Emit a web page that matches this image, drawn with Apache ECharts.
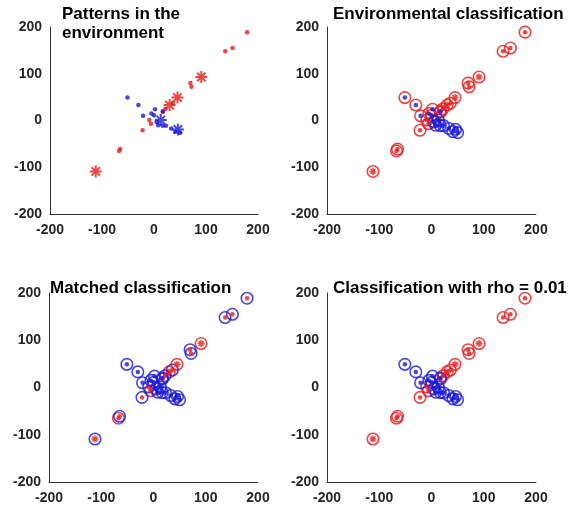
<!DOCTYPE html>
<html>
<head>
<meta charset="utf-8">
<script src="https://cdn.jsdelivr.net/npm/echarts@6/dist/echarts.min.js"></script>
<style>
  html, body { margin: 0; padding: 0; background: #fff; }
  #main { width: 571px; height: 509px; }
</style>
</head>
<body>
<div id="main"></div>
<script>
  // points (x, y), their true pattern colour and whether drawn as a star
  var ptX = [179, 151, 137, 91, 70, 72, 45, 30, 36, 22, 17, -9, -6, -22, -67, -65, -112,
             -51, -30, -21, 2, -5, 0, 17, 13, 8, 17, 23, 33, 46, 41, 50, 5];
  var ptY = [189, 155, 148, 93, 80, 72, 49, 33, 37, 25, 18, 1, -7, -21, -65, -61, -109,
             49, 33, 10, 24, 15, 11, 20, 1, -10, -11, -11, -17, -19, -24, -26, -3];
  var ptTrue = ['r','r','r','r','r','r','r','r','r','r','r','r','r','r','r','r','r',
                'b','b','b','b','b','b','b','b','b','b','b','b','b','b','b','b'];
  var ptStar = [0,0,0,1,0,0,1,1,0,0,0,0,0,0,0,0,1,
                0,0,0,0,0,0,0,1,0,0,0,0,1,0,0,0];

  // class assigned in each of the three classification panels
  var envLabel = ['r','r','r','r','r','r','r','r','r','r','r','r','r','r','r','r','r',
                  'r','r','r','r','r','r','r','b','b','b','b','b','b','b','b','b'];
  var matchedLabel = ['b','b','b','r','b','b','r','r','b','b','b','b','r','b','r','b','b',
                      'b','b','b','b','b','b','b','b','b','b','b','b','b','b','b','b'];
  var rhoLabel = ['r','r','r','r','r','r','r','r','r','r','r','r','r','r','r','r','r',
                  'b','b','b','b','b','b','b','b','b','b','b','b','b','b','b','b'];

  var titles = ['Patterns in the\nenvironment', 'Environmental classification',
                'Matched classification', 'Classification with rho = 0.01'];

  var RED = '#e81818';
  var BLUE = '#1818dc';
  var STAR = 'path://M0,5L10,5M5,0L5,10M1.5,1.5L8.5,8.5M8.5,1.5L1.5,8.5';

  var grids = [
    {left: 50, top: 27, width: 208, height: 187},
    {left: 327, top: 27, width: 209, height: 187},
    {left: 49, top: 293, width: 209, height: 189},
    {left: 327, top: 293, width: 209, height: 189}
  ];

  function pick(cls, star) {
    var out = [];
    for (var i = 0; i < ptX.length; i++) {
      if (ptTrue[i] === cls && ptStar[i] === star) out.push([ptX[i], ptY[i]]);
    }
    return out;
  }
  function pickLabel(labels, cls) {
    var out = [];
    for (var i = 0; i < ptX.length; i++) {
      if (labels[i] === cls) out.push([ptX[i], ptY[i]]);
    }
    return out;
  }

  var xAxes = [], yAxes = [], series = [];
  var axisStyle = {color: '#333', width: 1};
  var labelStyle = {color: '#262626', fontSize: 14, fontWeight: 'bold', fontFamily: 'Liberation Sans, Arial'};
  grids.forEach(function (g, k) {
    xAxes.push({
      gridIndex: k, type: 'value', min: -200, max: 200, interval: 100,
      axisLine: {onZero: false, lineStyle: axisStyle},
      axisTick: {show: false}, splitLine: {show: false},
      axisLabel: Object.assign({margin: 9}, labelStyle)
    });
    yAxes.push({
      gridIndex: k, type: 'value', min: -200, max: 200, interval: 100,
      axisLine: {show: true, onZero: false, lineStyle: axisStyle},
      axisTick: {show: false}, splitLine: {show: false},
      axisLabel: Object.assign({margin: 8}, labelStyle)
    });
  });

  var labelSets = [null, envLabel, matchedLabel, rhoLabel];
  grids.forEach(function (g, k) {
    var lab = labelSets[k];
    if (lab) {
      [['r', RED], ['b', BLUE]].forEach(function (c) {
        series.push({
          type: 'scatter', xAxisIndex: k, yAxisIndex: k, symbol: 'circle', symbolSize: 11.5,
          data: pickLabel(lab, c[0]), silent: true,
          itemStyle: {color: 'rgba(0,0,0,0)', borderColor: c[1], borderWidth: 1.6}
        });
      });
    }
    [['r', RED], ['b', BLUE]].forEach(function (c) {
      series.push({
        type: 'scatter', xAxisIndex: k, yAxisIndex: k, symbol: 'circle', symbolSize: 4.5,
        data: pick(c[0], 0), silent: true,
        itemStyle: {color: c[1]}
      });
      series.push({
        type: 'scatter', xAxisIndex: k, yAxisIndex: k, symbol: STAR, symbolSize: k === 0 ? 12 : 7,
        data: pick(c[0], 1), silent: true,
        itemStyle: {color: c[1], borderColor: c[1], borderWidth: k === 0 ? 2 : 1.5}
      });
    });
  });

  var titleStyle = {color: '#000', fontSize: 17, fontWeight: 'bold', fontFamily: 'Liberation Sans, Arial', lineHeight: 19};
  var chart = echarts.init(document.getElementById('main'));
  chart.setOption({
    animation: false,
    backgroundColor: '#fff',
    title: [
      {text: titles[0], left: 62, top: 5, textStyle: titleStyle, padding: 0},
      {text: titles[1], left: 333, top: 5, textStyle: titleStyle, padding: 0},
      {text: titles[2], left: 50, top: 279, textStyle: titleStyle, padding: 0},
      {text: titles[3], left: 333, top: 279, textStyle: titleStyle, padding: 0}
    ],
    grid: grids,
    xAxis: xAxes,
    yAxis: yAxes,
    series: series
  });
</script>
</body>
</html>
